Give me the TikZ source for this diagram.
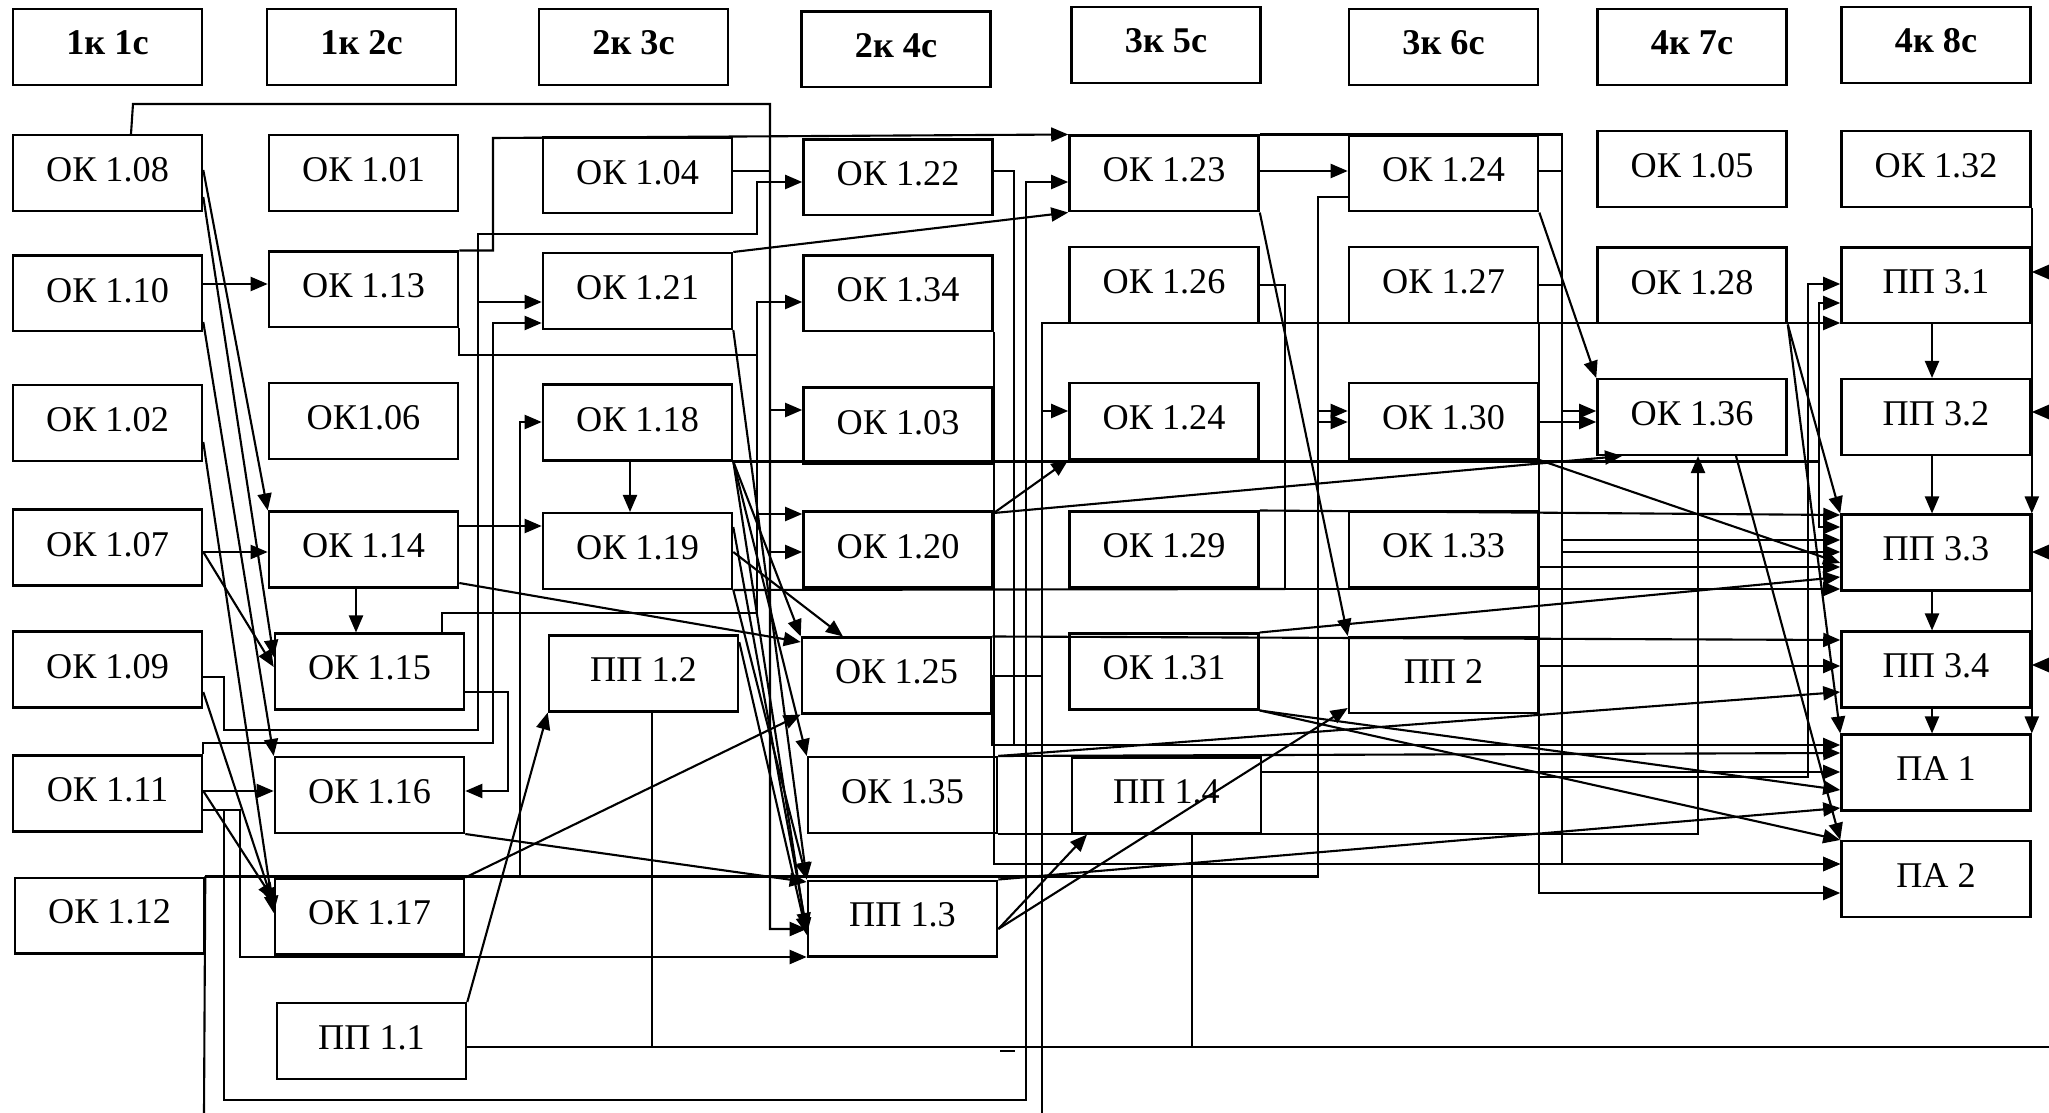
\documentclass[tikz,border=0pt]{standalone}
\usepackage{fontspec}
\setmainfont{Liberation Serif}
\usetikzlibrary{arrows.meta}

\begin{document}
\begin{tikzpicture}[x=0.01cm,y=-0.01cm,
  box/.style={draw,line width=0.7pt,minimum width=1.89cm,minimum height=0.755cm,inner sep=0pt,text depth=2pt,font=\fontsize{10.3}{12}\selectfont},
  head/.style={box,text depth=2.5pt,font=\fontsize{10.3}{12}\selectfont\bfseries},
  ln/.style={line width=0.6pt},
  arr/.style={ln,-{Triangle[length=1.7mm,width=1.4mm]}}]
\useasboundingbox (0,0) rectangle (2049,1113);
% semesters
\node[head] (h1) at (107.5,47) {1к 1с};
\node[head] (h2) at (361.5,47) {1к 2с};
\node[head] (h3) at (633.5,47) {2к 3с};
\node[head] (h4) at (896,49.5) {2к 4с};
\node[head] (h5) at (1166,45) {3к 5с};
\node[head] (h6) at (1443.5,47) {3к 6с};
\node[head] (h7) at (1692,47) {4к 7с};
\node[head] (h8) at (1936,45) {4к 8с};
% column 1
\node[box] (ok108) at (107.5,173) {ОК 1.08};
\node[box] (ok110) at (107.5,293.5) {ОК 1.10};
\node[box] (ok102) at (107.5,423) {ОК 1.02};
\node[box] (ok107) at (107.5,547.5) {ОК 1.07};
\node[box] (ok109) at (107.5,669.5) {ОК 1.09};
\node[box] (ok111) at (107.5,793.5) {ОК 1.11};
\node[box] (ok112) at (109.5,915.5) {ОК 1.12};
% column 2
\node[box] (ok101) at (363.5,173) {ОК 1.01};
\node[box] (ok113) at (363.5,289.5) {ОК 1.13};
\node[box] (ok106) at (363.5,421) {ОК1.06};
\node[box] (ok114) at (363.5,549.5) {ОК 1.14};
\node[box] (ok115) at (369.5,671.5) {ОК 1.15};
\node[box] (ok116) at (369.5,795) {ОК 1.16};
\node[box] (ok117) at (369.5,916.5) {ОК 1.17};
\node[box] (pp11) at (371.5,1041) {ПП 1.1};
% column 3
\node[box] (ok104) at (637.5,175.5) {ОК 1.04};
\node[box] (ok121) at (637.5,291) {ОК 1.21};
\node[box] (ok118) at (637.5,422.5) {ОК 1.18};
\node[box] (ok119) at (637.5,551) {ОК 1.19};
\node[box] (pp12) at (643.5,673.5) {ПП 1.2};
% column 4
\node[box] (ok122) at (898,177.5) {ОК 1.22};
\node[box] (ok134) at (898,293.5) {ОК 1.34};
\node[box] (ok103) at (898,425.5) {ОК 1.03};
\node[box] (ok120) at (898,549.5) {ОК 1.20};
\node[box] (ok125) at (896.5,675.5) {ОК 1.25};
\node[box] (ok135) at (902.5,795) {ОК 1.35};
\node[box] (pp13) at (902.5,918.5) {ПП 1.3};
% column 5
\node[box] (ok123) at (1164,173.5) {ОК 1.23};
\node[box] (ok126) at (1164,285) {ОК 1.26};
\node[box] (ok124b) at (1164,421) {ОК 1.24};
\node[box] (ok129) at (1164,549.5) {ОК 1.29};
\node[box] (ok131) at (1164,671.5) {ОК 1.31};
\node[box] (pp14) at (1166.5,795.5) {ПП 1.4};
% column 6
\node[box] (ok124) at (1443.5,173.5) {ОК 1.24};
\node[box] (ok127) at (1443.5,285) {ОК 1.27};
\node[box] (ok130) at (1443.5,421) {ОК 1.30};
\node[box] (ok133) at (1443.5,549.5) {ОК 1.33};
\node[box] (pp2) at (1443.5,675) {ПП 2};
% column 7
\node[box] (ok105) at (1692,169) {ОК 1.05};
\node[box] (ok128) at (1692,285.5) {ОК 1.28};
\node[box] (ok136) at (1692,417) {ОК 1.36};
% column 8
\node[box] (ok132) at (1936,169) {ОК 1.32};
\node[box] (pp31) at (1936,285.5) {ПП 3.1};
\node[box] (pp32) at (1936,417) {ПП 3.2};
\node[box] (pp33) at (1936,552.5) {ПП 3.3};
\node[box] (pp34) at (1936,669.5) {ПП 3.4};
\node[box] (pa1) at (1936,772.5) {ПА 1};
\node[box] (pa2) at (1936,879) {ПА 2};
% ends cut by the right edge
\coordinate (r31) at (2049,272);
\coordinate (r32) at (2049,412);
\coordinate (r33) at (2049,552);
\coordinate (r34) at (2049,665);
\coordinate (rbot) at (2049,1047);

% from the first column
\draw[arr] (ok110.east |- 0,284) -- (ok113.west |- 0,284);
\draw[arr] (ok108.east |- 0,170) -- (ok114.north west);
\draw[arr] (ok108.east |- 0,197) -- (ok115.west |- 0,657);
\draw[arr] (ok107.east |- 0,552) -- (ok114.west |- 0,552);
\draw[arr] (ok107.east |- 0,552) -- (ok115.west |- 0,667);
\draw[arr] (ok102.east |- 0,442) -- (ok117.west |- 0,913);
\draw[arr] (ok110.east |- 0,322) -- (ok116.north west);
\draw[arr] (ok109.east |- 0,692) -- (ok117.west |- 0,905);
\draw[arr] (ok111.east |- 0,791) -- (ok116.west |- 0,791);
\draw[arr] (ok111.east |- 0,791) -- (ok117.west |- 0,900);
\draw[arr] (ok114.south -| 356,0) -- (ok115.north -| 356,0);

% long buses
\draw[arr] (ok108.north -| 131,0) -- (133,104) -| (770,929) -- (pp13.west |- 0,929);
\draw[arr] (ok109.east |- 0,677) -| (224,730) -| (478,234) -| (757,182) -- (ok122.west |- 0,182);
\draw[arr] (478,302) -- (ok121.west |- 0,302);
\draw[arr] (ok111.north east) |- (493,743) |- (ok121.west |- 0,323);
\draw[arr] (ok113.north east) -| (493,138) -- (ok123.north west);
\draw[arr] (ok113.south east) |- (757,355) |- (ok134.west |- 0,302);
\draw[arr] (ok115.north -| 442,0) |- (757,613) |- (ok120.west |- 0,514);
\draw[ln] (757,514) -- (757,355);
\draw[arr] (ok115.east |- 0,692) -| (508,791) -- (ok116.east |- 0,791);
\draw[arr] (ok111.east |- 0,810) -| (240,957) -- (pp13.west |- 0,957);
\draw[arr] (224,810) |- (1026,1100) |- (ok123.west |- 0,182);
\draw[ln] (ok112.north east) -| (1318,197) -- (ok124.west |- 0,197);
\draw[arr] (1318,411) -- (ok130.west |- 0,411);
\draw[arr] (1318,422) -- (ok130.west |- 0,422);
\draw[arr] (520,878) |- (ok118.west |- 0,422);
\draw[ln] (ok112.north east) -- (204,1113);

% columns 2-4
\draw[arr] (ok114.east |- 0,526) -- (ok119.west |- 0,526);
\draw[arr] (ok114.east |- 0,583) -- (ok125.west |- 0,642);
\draw[arr] (ok118.south -| 630,0) -- (ok119.north -| 630,0);
\draw[ln] (ok104.east |- 0,171) -- (770,171);
\draw[arr] (770,410) -- (ok103.west |- 0,410);
\draw[arr] (770,552) -- (ok120.west |- 0,552);
\draw[arr] (ok118.south east) -- (ok125.north west);
\draw[arr] (ok118.south east) -- (ok135.north west);
\draw[arr] (ok118.south east) -- (pp13.west |- 0,935);
\draw[arr] (ok119.east |- 0,552) -- (ok125.north -| 843,0);
\draw[arr] (ok119.east |- 0,527) -- (pp13.west |- 0,930);
\draw[arr] (ok119.south east) -- (pp13.north west);
\draw[arr] (ok121.south east) -- (pp13.north west);
\draw[arr] (pp12.east |- 0,642) -- (pp13.west |- 0,934);
\draw[arr] (ok116.south east) -- (pp13.west |- 0,882);
\draw[arr] (ok117.north east) -- (ok125.south west);
\draw[arr] (pp11.north east) -- (pp12.south west);
\draw[ln] (pp11.east |- 0,1047) -- (rbot);
\draw[ln] (pp12.south -| 652,0) -- (652,1047);
\draw[ln] (pp14.south -| 1192,0) -- (1192,1047);
\draw[ln] (1000,1051) -- (1015,1051);

% columns 4-8
\draw[arr] (ok121.north east) -- (ok123.south west);
\draw[arr] (ok122.east |- 0,171) -| (1014,745) -- (pa1.west |- 0,745);
\draw[ln] (ok125.east |- 0,676) |- (1014,745);
\draw[arr] (ok125.east |- 0,676) -| (1042,411) -- (ok124b.west |- 0,411);
\draw[arr] (1042,411) |- (pp31.west |- 0,323);
\draw[ln] (1042,676) -- (1042,1113);
\draw[arr] (ok120.east |- 0,513) -- (ok124b.south west);
\draw[arr] (ok120.east |- 0,513) -- (ok136.south -| 1622,0);
\draw[arr] (ok123.east |- 0,171) -- (ok124.west |- 0,171);
\draw[arr] (ok123.south east) -- (pp2.north west);
\draw[arr] (ok123.north east) -| (1562,864) -- (pa2.west |- 0,864);
\draw[ln] (ok124.east |- 0,171) -- (1562,171);
\draw[ln] (ok127.east) -- (1562,285);
\draw[arr] (1562,411) -- (ok136.west |- 0,411);
\draw[arr] (1562,540) -- (pp33.west |- 0,540);
\draw[arr] (1562,552) -- (pp33.west |- 0,552);
\draw[arr] (pp2.east |- 0,666) -- (pp34.west |- 0,666);
\draw[arr] (ok124.south east) -- (ok136.north west);
\draw[arr] (ok126.east) -| (1285,589) -- (pp33.west |- 0,589);
\draw[ln] (ok119.south east) -- (1285,589);
\draw[arr] (ok129.north east) -- (pp33.west |- 0,515);
\draw[arr] (ok130.east |- 0,422) -- (ok136.west |- 0,422);
\draw[arr] (ok130.south east) -- (pp33.west |- 0,563);
\draw[arr] (ok133.east |- 0,567) -- (pp33.west |- 0,567);
\draw[arr] (ok131.north east) -- (pp33.west |- 0,577);
\draw[arr] (ok125.north east) -- (pp34.west |- 0,640);
\draw[arr] (ok131.south east) -- (pa1.west |- 0,790);
\draw[arr] (ok131.south east) -- (pa2.north west);
\draw[arr] (ok135.north east) -- (pp34.west |- 0,692);
\draw[arr] (ok135.north east) -- (pa1.west |- 0,753);
\draw[arr] (pp14.east |- 0,772) -- (pa1.west |- 0,772);
\draw[arr] (pp13.north east) -- (pa1.west |- 0,808);
\draw[arr] (pp13.east |- 0,929) -- (pp2.west |- 0,708);
\draw[arr] (pp13.east |- 0,929) -- (pp14.south -| 1087,0);
\draw[arr] (ok134.south east) |- (pa2.west |- 0,864);
\draw[arr] (ok135.south east) -| (ok136.south -| 1698,0);
\draw[arr] (ok136.south -| 1736,0) -- (pa2.north west);
\draw[arr] (ok127.south east) |- (pa2.west |- 0,893);
\draw[arr] (1538,777) -| (1808,284) -- (pp31.west |- 0,284);
\draw[arr] (ok118.south east) -| (1819,303) -- (pp31.west |- 0,303);
\draw[arr] (1819,459) |- (pp33.west |- 0,527);
\draw[arr] (ok128.south east) -- (pp33.north west);
\draw[arr] (ok128.south east) -- (pa1.north west);

% last column
\draw[arr] (pp31.south -| 1932,0) -- (pp32.north -| 1932,0);
\draw[arr] (pp32.south -| 1932,0) -- (pp33.north -| 1932,0);
\draw[arr] (pp33.south -| 1932,0) -- (pp34.north -| 1932,0);
\draw[arr] (pp34.south -| 1932,0) -- (pa1.north -| 1932,0);
\draw[arr] (ok132.south east) -- (pp33.north east);
\draw[arr] (pp33.north east) -- (pa1.north east);
\draw[arr] (r31) -- (pp31.east |- r31);
\draw[arr] (r32) -- (pp32.east |- r32);
\draw[arr] (r33) -- (pp33.east |- r33);
\draw[arr] (r34) -- (pp34.east |- r34);
\end{tikzpicture}
\end{document}
